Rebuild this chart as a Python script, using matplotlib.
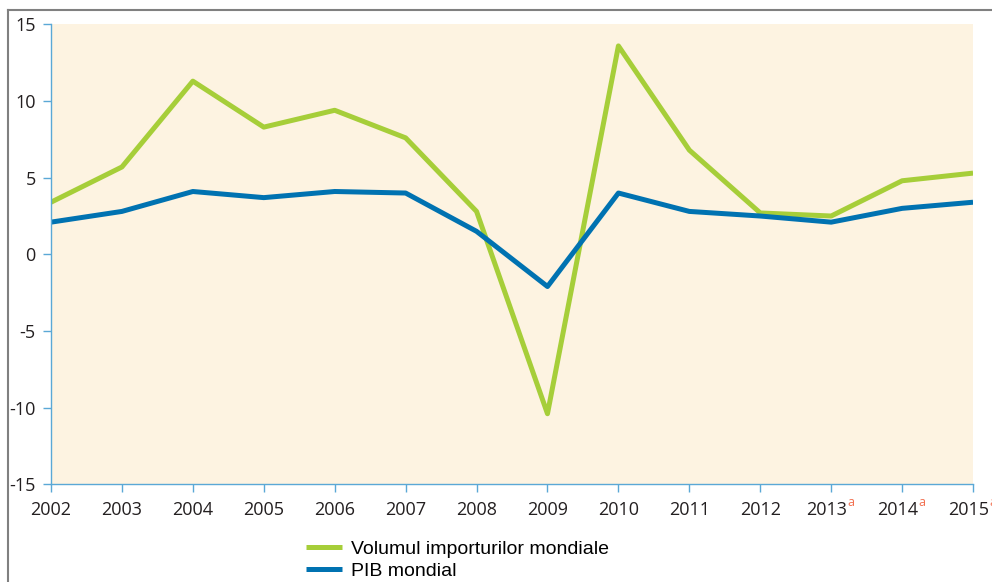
import matplotlib
matplotlib.use('Agg')
import matplotlib.pyplot as plt
from matplotlib.lines import Line2D
from matplotlib.transforms import ScaledTranslation

years = [2002, 2003, 2004, 2005, 2006, 2007, 2008, 2009, 2010, 2011, 2012, 2013, 2014, 2015]
year_labels = ['2002', '2003', '2004', '2005', '2006', '2007', '2008', '2009',
               '2010', '2011', '2012', '2013', '2014', '2015']
estimated_years = [2013, 2014, 2015]

imports = [3.4, 5.7, 11.3, 8.3, 9.4, 7.6, 2.8, -10.4, 13.6, 6.8, 2.7, 2.5, 4.8, 5.3]
gdp = [2.1, 2.8, 4.1, 3.7, 4.1, 4.0, 1.5, -2.1, 4.0, 2.8, 2.5, 2.1, 3.0, 3.4]

GREEN = '#a6ce39'
BLUE = '#0072b1'
AXIS = '#5aa8d6'
TEXT = '#231f20'

plt.rcParams['axes.unicode_minus'] = False

fig = plt.figure(figsize=(9.92, 5.82), dpi=100)
ax = fig.add_axes([0.0514, 0.168, 0.9295, 0.79])
ax.set_facecolor('#fdf3e1')

ax.plot(years, imports, color=GREEN, lw=3.6, solid_capstyle='butt',
        label='Volumul importurilor mondiale')
ax.plot(years, gdp, color=BLUE, lw=3.6, solid_capstyle='butt', label='PIB mondial')

ax.set_xlim(2002, 2015)
ax.set_ylim(-15, 15)
ax.set_yticks(range(-15, 16, 5))
ax.set_xticks(years)
ax.set_xticklabels(year_labels)

for side in ['top', 'right']:
    ax.spines[side].set_visible(False)
for side in ['left', 'bottom']:
    ax.spines[side].set_color(AXIS)
    ax.spines[side].set_linewidth(1.0)

ax.tick_params(direction='out', length=6, width=1.0, color=AXIS,
               labelcolor=TEXT, labelsize=13)
ax.tick_params(axis='y', pad=5)
ax.tick_params(axis='x', pad=6)
for lbl in ax.get_xticklabels() + ax.get_yticklabels():
    lbl.set_family('Open Sans')

# labels with a superscript are centred as a whole, so nudge the year left
shift = ScaledTranslation(-3 / 72, 0, fig.dpi_scale_trans)
for yr, lbl in zip(years, ax.get_xticklabels()):
    if yr in estimated_years:
        lbl.set_transform(lbl.get_transform() + shift)
        ax.annotate('a', xy=(yr, 0), xycoords=ax.get_xaxis_transform(),
                    xytext=(12, -13), textcoords='offset points',
                    color='#f26f4f', fontsize=9, family='Open Sans',
                    ha='left', va='center', annotation_clip=False)

# frame of the original figure box
fig.add_artist(Line2D([8 / 992, 8 / 992], [0, 1 - 10 / 582], transform=fig.transFigure,
                      color='#808080', lw=1.5))
fig.add_artist(Line2D([8 / 992, 1], [1 - 10 / 582, 1 - 10 / 582], transform=fig.transFigure,
                      color='#808080', lw=1.5))

fig.legend(loc='upper left', bbox_to_anchor=(0.308, 0.072), frameon=False,
           prop={'family': 'Liberation Sans', 'size': 14}, handlelength=1.9,
           handletextpad=0.45, labelspacing=0.25, borderaxespad=0, borderpad=0)

fig.savefig('out.png', dpi=100)
